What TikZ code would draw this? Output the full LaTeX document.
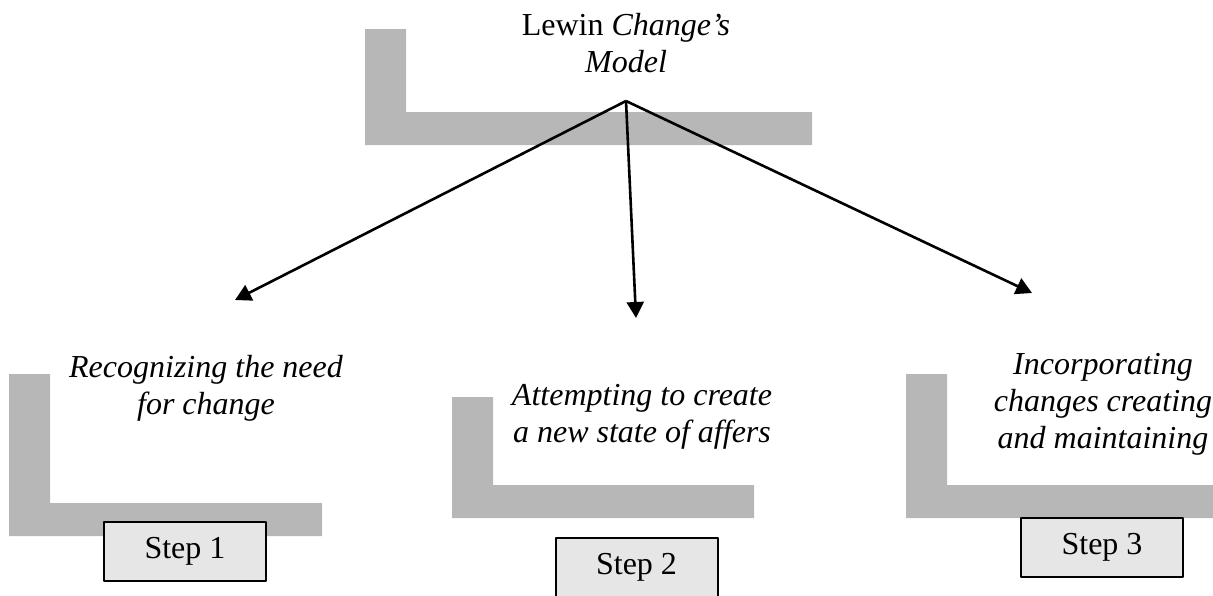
\documentclass[tikz,border=0pt]{standalone}
\usepackage{fontspec}
\setmainfont{Liberation Serif}
\usetikzlibrary{arrows.meta}
\definecolor{lgray}{RGB}{183,183,183}
\definecolor{boxgray}{RGB}{230,230,230}
\begin{document}
\begin{tikzpicture}[x=0.5pt,y=-0.5pt,>={Triangle[length=8pt,width=8.5pt]},line join=round,font=\fontsize{16}{18.5}\selectfont,
	lab/.style={align=center,anchor=base,inner sep=0pt,font=\fontsize{16}{18.5}\selectfont\itshape},
	stepbox/.style={draw,line width=1pt,fill=boxgray,minimum width=81pt,minimum height=29.5pt,inner sep=0pt}]
	\def \vw{41}\def \hw{33}
	\clip (0,0) rectangle (1213,595);
	% grey corner bars
	\foreach \xa/\ya/\xb/\yb in {365/29/812/145,9/374/322/536,452/397/754/518,906/374/1213/518}
		\fill[lgray] (\xa,\ya) -- (\xa,\yb) -- (\xb,\yb) -- (\xb,\yb-\hw) -- (\xa+\vw,\yb-\hw) -- (\xa+\vw,\ya) -- cycle;
	% anchor=base sits on the last line
	\node[lab] (title) at (626,72) {\upshape Lewin \itshape Change's\\Model};
	\node[lab] (need) at (206,414) {Recognizing the need\\for change};
	\node[lab] (state) at (642,442) {Attempting to create\\a new state of affers};
	\node[lab] (keep) at (1103,448) {Incorporating\\changes creating\\and maintaining};
	\node[stepbox] (step1) at (185,551.5) {Step 1};
	\node[stepbox] (step2) at (636.5,567.5) {Step 2};
	\node[stepbox] (step3) at (1102,547.5) {Step 3};
	\coordinate (apex) at (626,101);
	\coordinate (tip1) at (235,300); \coordinate (tip2) at (636,318); \coordinate (tip3) at (1032,293);
	\foreach \t in {tip1,tip2,tip3} \draw[->,line width=1.3pt] (apex) -- (\t);
\end{tikzpicture}
\end{document}
